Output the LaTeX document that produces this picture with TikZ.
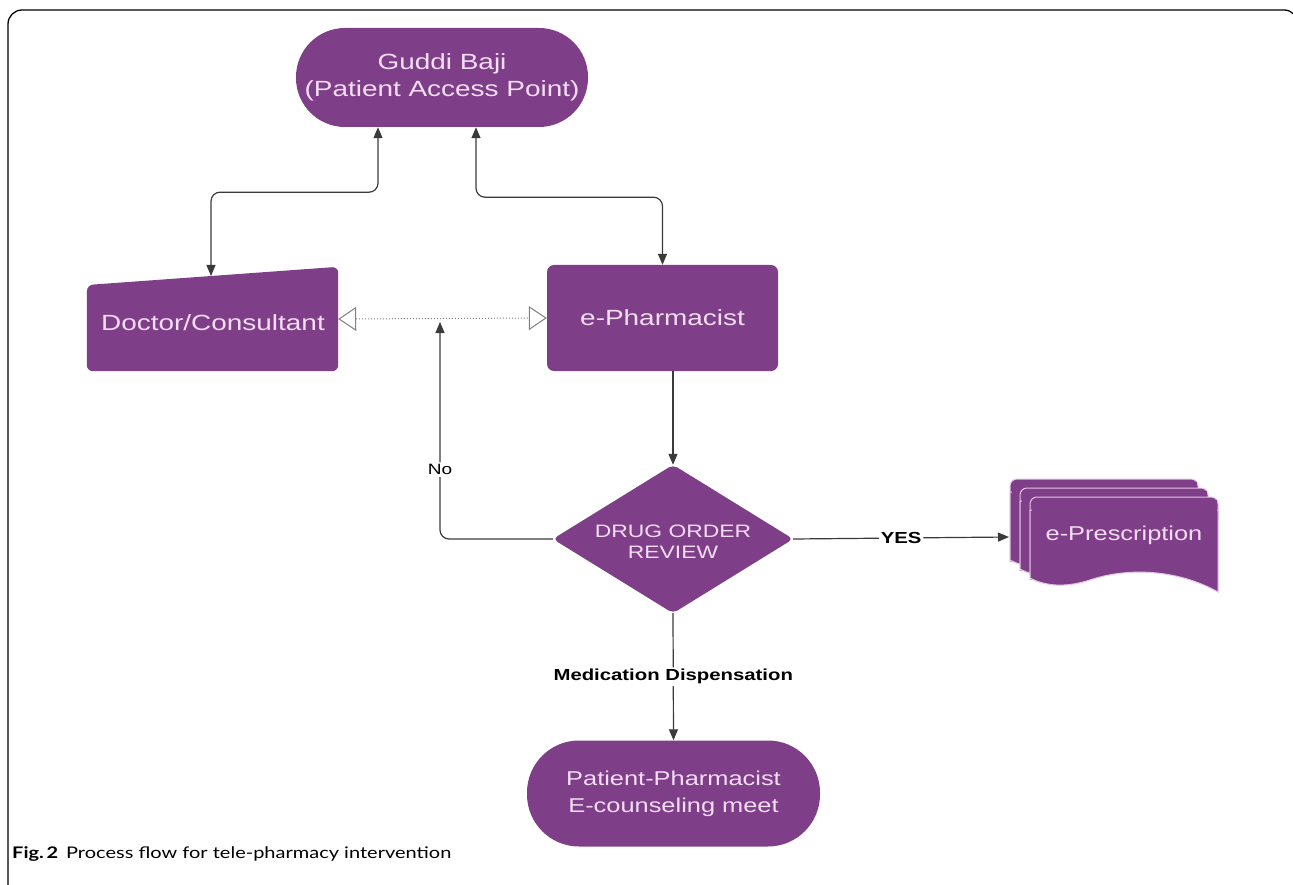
\documentclass[tikz,border=0pt]{standalone}
\usepackage{fontspec}
\setmainfont{Liberation Sans}[FakeStretch=1.27]
\newfontfamily\capfont{Lato}[FakeStretch=1.25]
\usetikzlibrary{shapes.misc,arrows.meta,backgrounds,calc}
\definecolor{purp}{HTML}{7F3F88}
\definecolor{pinktext}{HTML}{F3DDF3}
\definecolor{sheetline}{HTML}{E6C3E8}
\definecolor{linec}{HTML}{3A3A3A}
\tikzset{
  box/.style={rectangle, fill=purp, text=pinktext, align=center, inner sep=0pt},
  ghost/.style={rectangle, text=pinktext, align=center, inner sep=0pt},
  conn/.style={draw=linec, line width=1.2pt, rounded corners=9pt},
  arr/.style={-{Triangle[length=11pt,width=9pt]}},
  twoarr/.style={{Triangle[length=11pt,width=9pt]}-{Triangle[length=11pt,width=9pt]}},
  lbl/.style={fill=white, inner sep=2pt, text=black},
  sheet/.style={fill=purp, draw=sheetline, line width=1pt},
  bigtxt/.style={font=\fontsize{22}{27}\selectfont},
  midtxt/.style={font=\fontsize{20}{27}\selectfont},
}
\begin{document}
\begin{tikzpicture}[x=1pt, y={(0pt,-1pt)}]
\useasboundingbox (0,0) rectangle (1293,885);
% frame
\draw[line width=1.3pt, rounded corners=14pt] (8,900) -- (8,10) -- (1298,10) -- (1298,80);

% nodes
\node[box, bigtxt, rounded corners=49pt, minimum width=292pt, minimum height=99pt] (gud) at (442,77.5) {Guddi Baji\\(Patient Access Point)};
\node[ghost, minimum width=251pt, minimum height=104pt] (doc) at (212.5,319) {};
\node[ghost, bigtxt] (doctxt) at (213,323) {Doctor/Consultant};
\node[box, bigtxt, rounded corners=7pt, minimum width=231pt, minimum height=106pt] (eph) at (662.5,318) {e-Pharmacist};
\node[ghost, minimum width=240pt, minimum height=148pt] (dor) at (673,539) {};
\node[ghost, font=\fontsize{18}{21}\selectfont] (dortxt) at (673,542) {DRUG ORDER\\REVIEW};
\node[ghost, midtxt] (epr) at (1124,535) {e-Prescription};
\node[box, midtxt, rounded corners=52pt, minimum width=293pt, minimum height=106pt] (pat) at (673.5,793.5) {Patient-Pharmacist\\E-counseling meet};

\coordinate (doctop) at (211,276);
\coordinate (epin) at (1009,537);
\coordinate (nojoin) at (440,322);

\begin{scope}[on background layer]
  \fill[purp, rounded corners=6pt] (doc.south west) -- (87,285) -- (doc.north east) -- (doc.south east) -- cycle;
  \fill[purp, rounded corners=5pt] (dor.north) -- (dor.east) -- (dor.south) -- (dor.west) -- cycle;
  \foreach \s in {20,10,0}{
    \begin{scope}[shift={(-\s,{-0.9*\s})}]
      \filldraw[sheet, rounded corners=7pt] (1030,580) -- (1030,497) -- (1218,497) -- (1218,520);
      \filldraw[sheet] (1030,580) -- (1030,510) -- (1218,510) -- (1218,592)
        .. controls (1175,568) and (1125,568) .. (1090,580)
        .. controls (1065,588) and (1045,586) .. (1030,578) -- cycle;
      \fill[purp] (1031.5,500) rectangle (1216.5,530);
    \end{scope}
  }
\end{scope}

% connectors
\draw[conn, twoarr] ([xshift=-64pt]gud.south) -- ++(0,65) -| (doctop);
\draw[conn, twoarr] ([xshift=34pt]gud.south) -- ++(0,70) -| (eph.north);
\draw[draw=gray, line width=1pt, dotted, {Triangle[open,length=18pt,width=24pt]}-{Triangle[open,length=18pt,width=24pt]}] (doc.east) -- (eph.west);
\draw[conn, arr] (dor.north |- eph.south) -- (dor.north);
\draw[conn, arr] (dor.west) -| (nojoin) node[lbl, pos=0.66, font=\fontsize{15}{18}\selectfont] {No};
\draw[conn, arr] (dor.east) -- (epin) node[lbl, midway, font=\bfseries\fontsize{16}{18}\selectfont] {YES};
\draw[conn, arr] (dor.south) -- (pat.north) node[lbl, midway, font=\bfseries\fontsize{16}{18}\selectfont] {Medication Dispensation};

% caption
\node[anchor=base west, inner sep=0pt] (cap) at (12,858) {\capfont\fontsize{16}{18}\selectfont\textbf{Fig.\,2}\hspace{8pt}Process flow for tele-pharmacy intervention};
\end{tikzpicture}
\end{document}
